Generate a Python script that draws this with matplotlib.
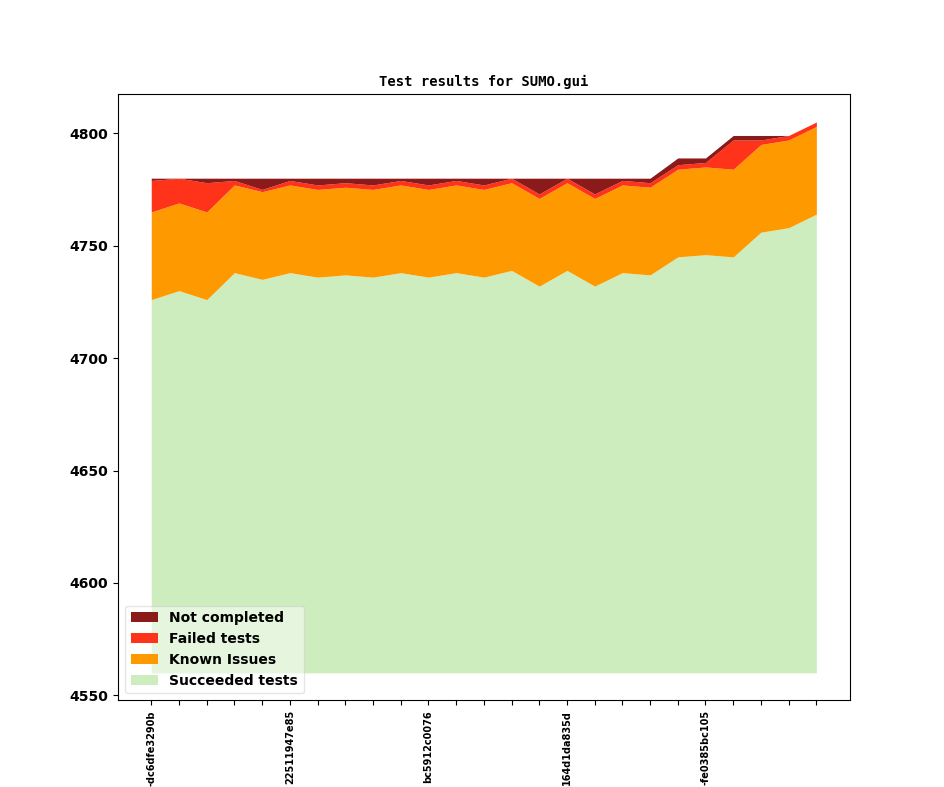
import matplotlib
matplotlib.use("Agg")
import matplotlib.pyplot as plt
import numpy as np

labels = [
    "-dc6dfe3290b", "", "", "", "",
    "22511947e85", "", "", "", "",
    "bc5912c0076", "", "", "", "",
    "164d1da835d", "", "", "", "",
    "-fe0385bc105", "", "", "", "",
]
succeeded = [4726, 4730, 4726, 4738, 4735, 4738, 4736, 4737, 4736, 4738, 4736, 4738, 4736,
             4739, 4732, 4739, 4732, 4738, 4737, 4745, 4746, 4745, 4756, 4758, 4764]
known = [39] * 25
failed = [14, 11, 13, 2, 1, 2, 2, 2, 2, 2, 2, 2, 2,
          2, 2, 2, 2, 2, 2, 2, 2, 13, 2, 2, 2]
not_completed = [1, 0, 2, 1, 5, 1, 3, 2, 3, 1, 3, 1, 3,
                 0, 7, 0, 7, 1, 2, 3, 2, 2, 2, 0, 0]
baseline = 4560

series = [succeeded, known, failed, not_completed]
names = ["Succeeded tests", "Known Issues", "Failed tests", "Not completed"]
colors = ["#ceedbe", "#ff9900", "#ff3319", "#8b1a1a"]

fig = plt.figure(figsize=(9.44, 7.87), dpi=100)
ax = fig.add_subplot(111)
x = np.arange(len(succeeded))
layers = [np.array(succeeded, float) - baseline] + [np.array(s, float) for s in series[1:]]
tops = np.cumsum(np.vstack(layers), axis=0) + baseline
handles = []
prev = np.full(len(x), baseline, dtype=float)
for i, (name, c) in enumerate(zip(names, colors)):
    h = ax.fill_between(x, prev, tops[i], color=c, linewidth=0, label=name)
    handles.append(h)
    prev = tops[i]

ax.set_xticks(x)
ax.set_xticklabels(labels, rotation=90, fontsize=7, fontweight="bold")
ax.set_yticks([4550, 4600, 4650, 4700, 4750, 4800])
for t in ax.get_yticklabels():
    t.set_fontweight("bold")
    t.set_fontsize(10)
ax.set_title("Test results for SUMO.gui", family="DejaVu Sans Mono", fontweight="bold", fontsize=10)
ax.legend(handles[::-1], names[::-1], loc="lower left", framealpha=0.5,
          prop={"weight": "bold", "size": 10})
fig.savefig("out.png", dpi=100)
